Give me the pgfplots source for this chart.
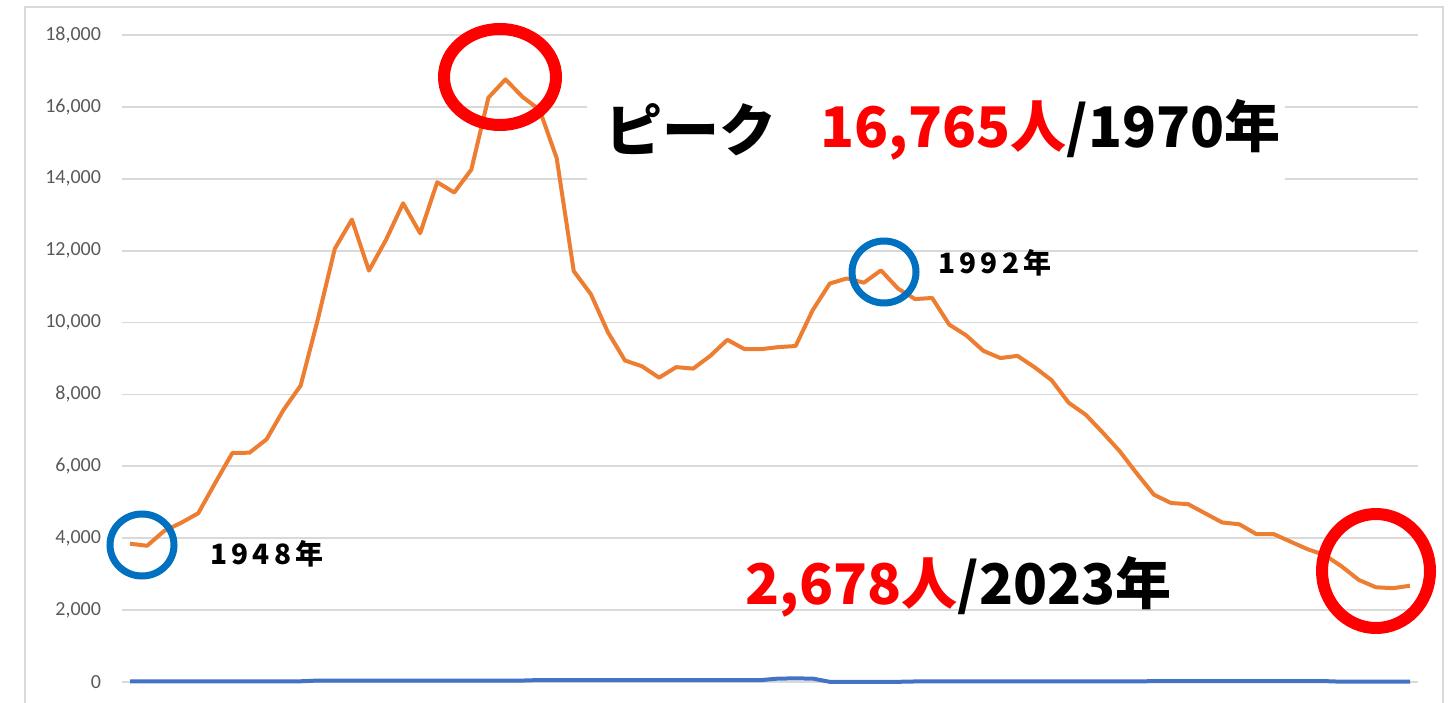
\documentclass[border=0pt]{standalone}
\usepackage{pgfplots}
\pgfplotsset{compat=1.18}
\usepackage{fontspec}
\setmainfont{Carlito}
\newfontfamily\jp{Noto Sans CJK JP}
\newfontfamily\jpwide[LetterSpace=15]{Noto Sans CJK JP}
\definecolor{orangeline}{HTML}{ED7D31}
\definecolor{blueline}{HTML}{4472C4}
\definecolor{gridgray}{HTML}{D9D9D9}
\definecolor{ticklab}{HTML}{595959}
\definecolor{circblue}{HTML}{0070C0}
\begin{document}
\begin{tikzpicture}[x=0.5pt,y=0.5pt]
\path[use as bounding box] (0,0) rectangle (1449,702);
\draw[gridgray,line width=1pt] (25,-10) -- (25,695) -- (1443,695) -- (1443,-10);
\begin{axis}[
  at={(61pt,10pt)}, anchor=south west,
  scale only axis, width=648pt, height=323.5pt,
  xmin=1947.531, xmax=2023.469, ymin=0, ymax=18000,
  axis line style={draw=none},
  xtick=\empty,
  ytick={0,2000,...,18000},
  ymajorgrids, grid style={gridgray,line width=0.9pt},
  major tick length=0pt,
  tick style={draw=none},
  scaled y ticks=false,
  yticklabel style={font=\fontsize{10}{12}\selectfont, color=ticklab, xshift=-7pt,
    /pgf/number format/.cd, 1000 sep={,}, assume math mode=true},
  clip=false,
]
\addplot[blueline, line width=2pt] coordinates {
(1948,20)(1949,20)(1950,20)(1951,20)(1952,20)(1953,20)(1954,20)(1955,20)(1956,20)(1957,20)(1958,20)
(1959,40)(1960,40)(1961,40)(1962,40)(1963,40)(1964,40)(1965,40)(1966,40)(1967,40)(1968,40)(1969,40)(1970,40)(1971,40)
(1972,55)(1973,55)(1974,55)(1975,55)(1976,55)(1977,55)(1978,55)(1979,55)(1980,55)(1981,55)(1982,55)(1983,55)(1984,55)(1985,55)
(1986,95)(1987,100)(1988,95)
(1989,5)(1990,5)(1991,5)(1992,5)(1993,5)
(1994,15)(1995,15)(1996,15)(1997,15)(1998,15)(1999,15)(2000,15)(2001,15)(2002,15)(2003,15)(2004,15)(2005,15)(2006,15)(2007,15)
(2008,25)(2009,25)(2010,25)(2011,25)(2012,25)(2013,25)(2014,25)(2015,25)(2016,25)(2017,25)(2018,25)
(2019,8)(2020,8)(2021,8)(2022,8)(2023,8)
};
\addplot[orangeline, line width=2pt, line join=round] coordinates {
(1948,3848)(1949,3790)(1950,4202)(1951,4429)(1952,4696)(1953,5544)(1954,6374)(1955,6379)(1956,6751)(1957,7575)
(1958,8248)(1959,10079)(1960,12055)(1961,12865)(1962,11445)(1963,12301)(1964,13318)(1965,12484)(1966,13904)(1967,13618)
(1968,14256)(1969,16257)(1970,16765)(1971,16278)(1972,15918)(1973,14574)(1974,11432)(1975,10792)(1976,9734)(1977,8945)
(1978,8783)(1979,8466)(1980,8760)(1981,8719)(1982,9073)(1983,9520)(1984,9262)(1985,9261)(1986,9317)(1987,9347)
(1988,10344)(1989,11086)(1990,11227)(1991,11109)(1992,11452)(1993,10945)(1994,10653)(1995,10684)(1996,9943)(1997,9642)
(1998,9214)(1999,9012)(2000,9073)(2001,8757)(2002,8396)(2003,7768)(2004,7436)(2005,6937)(2006,6415)(2007,5796)
(2008,5209)(2009,4979)(2010,4948)(2011,4691)(2012,4438)(2013,4388)(2014,4113)(2015,4117)(2016,3904)(2017,3694)
(2018,3532)(2019,3215)(2020,2839)(2021,2636)(2022,2610)(2023,2678)
};
\end{axis}
% white box behind peak text
\fill[white] (587,522) rectangle (1285,615);
% circles
\draw[circblue, line width=3.5pt] (142,157) ellipse [x radius=32, y radius=31];
\draw[circblue, line width=3.5pt] (884,430) ellipse [x radius=32, y radius=31];
\draw[red, line width=6pt] (500,625) ellipse [x radius=56, y radius=48];
\draw[red, line width=6pt] (1376,131) ellipse [x radius=54, y radius=57];
% texts
\node[font=\jpwide\bfseries\fontsize{14}{16}\selectfont, anchor=west, inner sep=0] at (210,148) {1948年};
\node[font=\jpwide\bfseries\fontsize{14}{16}\selectfont, anchor=west, inner sep=0] at (938,439) {1992年};
\node[font=\jp\bfseries\fontsize{28.5}{32}\selectfont, anchor=west, inner sep=0] at (605,572) {ピーク};
\node[font=\jp\bfseries\fontsize{28}{32}\selectfont, anchor=west, inner sep=0] at (820,572) {{\color{red}16,765人}/1970年};
\node[font=\jp\bfseries\fontsize{28}{32}\selectfont, anchor=west, inner sep=0] at (745,115) {{\color{red}2,678人}/2023年};
\end{tikzpicture}
\end{document}
